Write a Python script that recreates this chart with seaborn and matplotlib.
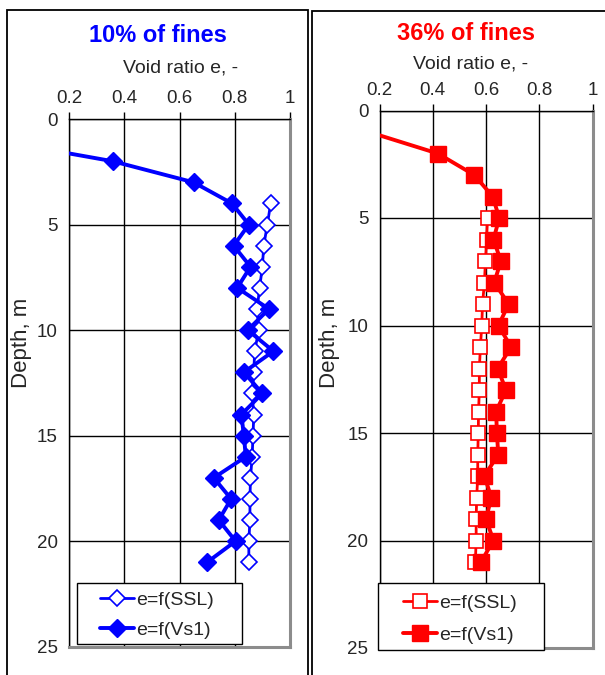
import matplotlib
matplotlib.use("Agg")
import matplotlib.pyplot as plt
import seaborn as sns
import pandas as pd
from matplotlib.patches import Rectangle

# ---------------- data ----------------
depth_ssl_10 = [4, 5, 6, 7, 8, 9, 10, 11, 12, 13, 14, 15, 16, 17, 18, 19, 20, 21]
e_ssl_10 = [0.930, 0.918, 0.905, 0.900, 0.890, 0.881, 0.887, 0.872, 0.869, 0.863,
            0.869, 0.866, 0.863, 0.857, 0.855, 0.855, 0.851, 0.851]
depth_vs_10 = [1, 2, 3, 4, 5, 6, 7, 8, 9, 10, 11, 12, 13, 14, 15, 16, 17, 18, 19, 20, 21]
e_vs_10 = [-0.07, 0.358, 0.651, 0.790, 0.851, 0.796, 0.857, 0.809, 0.924, 0.847, 0.940,
           0.833, 0.900, 0.824, 0.833, 0.840, 0.724, 0.787, 0.742, 0.803, 0.700]

depth_ssl_36 = [5, 6, 7, 8, 9, 10, 11, 12, 13, 14, 15, 16, 17, 18, 19, 20, 21]
e_ssl_36 = [0.606, 0.602, 0.598, 0.594, 0.587, 0.584, 0.579, 0.575, 0.575, 0.572,
            0.571, 0.569, 0.569, 0.565, 0.563, 0.563, 0.560]
depth_vs_36 = [1, 2, 3, 4, 5, 6, 7, 8, 9, 10, 11, 12, 13, 14, 15, 16, 17, 18, 19, 20, 21]
e_vs_36 = [0.16, 0.419, 0.556, 0.625, 0.650, 0.628, 0.656, 0.631, 0.685, 0.647, 0.694,
           0.644, 0.675, 0.638, 0.641, 0.646, 0.594, 0.620, 0.600, 0.628, 0.581]

x_ticks = [0.2, 0.4, 0.6, 0.8, 1.0]
x_tick_labels = ["0.2", "0.4", "0.6", "0.8", "1"]
y_ticks = [0, 5, 10, 15, 20, 25]
y_tick_labels = ["0", "5", "10", "15", "20", "25"]
titles = ["10% of fines", "36% of fines"]
legend_labels = ["e=f(SSL)", "e=f(Vs1)"]
xlabel = "Void ratio e, -"
ylabel = "Depth, m"

# ---------------- style ----------------
sns.set_style("white")
plt.rcParams["font.family"] = ["Liberation Sans", "DejaVu Sans"]

W, H = 605, 675
fig = plt.figure(figsize=(W / 100, H / 100), dpi=100)


def fx(px):
    return px / W


def fy(py):
    return 1 - py / H


# panel boxes
for (x0, y0, x1) in [(7, 10, 308), (312, 11, 640)]:
    fig.add_artist(Rectangle((fx(x0), fy(700)), fx(x1) - fx(x0), fy(y0) - fy(700),
                             transform=fig.transFigure, fill=False,
                             edgecolor="black", linewidth=1.3, clip_on=False))

panels = [
    dict(box=(69, 119, 290, 646.7), color="#0000FF", marker="D", ms_f=9.0, ms_o=8.5,
         ssl=(e_ssl_10, depth_ssl_10), vs=(e_vs_10, depth_vs_10), title=titles[0],
         title_xy=(158, 36), xl_xy=(181, 68), yl_xy=(22, 343),
         legbox=(77, 583, 242, 644), leg_anchor=(100, 591), legsp=0.66),
    dict(box=(379.5, 110.5, 592.5, 648), color="#FF0000", marker="s", ms_f=11.0, ms_o=10.0,
         ssl=(e_ssl_36, depth_ssl_36), vs=(e_vs_36, depth_vs_36), title=titles[1],
         title_xy=(466, 34), xl_xy=(471, 64), yl_xy=(330, 343),
         legbox=(378, 583, 544, 650), leg_anchor=(403, 594), legsp=0.74),
]

for p in panels:
    x0, y0, x1, y1 = p["box"]
    ax = fig.add_axes([fx(x0), fy(y1), fx(x1) - fx(x0), fy(y0) - fy(y1)])
    c = p["color"]

    df_ssl = pd.DataFrame({"e": p["ssl"][0], "depth": p["ssl"][1]})
    df_vs = pd.DataFrame({"e": p["vs"][0], "depth": p["vs"][1]})

    sns.lineplot(data=df_ssl, x="e", y="depth", orient="y", sort=False, estimator=None,
                 ax=ax, color=c, linewidth=2.0, marker=p["marker"],
                 markersize=p["ms_o"], markerfacecolor="white", markeredgecolor=c,
                 markeredgewidth=1.2, label=legend_labels[0], zorder=3)
    sns.lineplot(data=df_vs, x="e", y="depth", orient="y", sort=False, estimator=None,
                 ax=ax, color=c, linewidth=2.8, marker=p["marker"],
                 markersize=p["ms_f"], markerfacecolor=c, markeredgecolor=c,
                 markeredgewidth=1.0, label=legend_labels[1], zorder=4)

    ax.set_xlim(0.2, 1.0)
    ax.set_ylim(25, 0)
    ax.set_xticks(x_ticks)
    ax.set_xticklabels(x_tick_labels)
    ax.set_yticks(y_ticks)
    ax.set_yticklabels(y_tick_labels)
    ax.xaxis.tick_top()
    ax.tick_params(axis="both", direction="out", length=5, width=1, color="black",
                   labelsize=13.5)
    ax.tick_params(axis="x", pad=3.5)
    ax.tick_params(axis="y", pad=3)
    ax.set_xlabel("")
    ax.set_ylabel("")
    ax.grid(True, color="black", linewidth=1.0)
    ax.set_axisbelow(True)
    for s in ["left", "top"]:
        ax.spines[s].set_color("black")
        ax.spines[s].set_linewidth(1.0)
    for s in ["right", "bottom"]:
        ax.spines[s].set_color("#8c8c8c")
        ax.spines[s].set_linewidth(2.2)

    fig.text(fx(p["title_xy"][0]), fy(p["title_xy"][1]), p["title"], color=c,
             fontsize=17, fontweight="bold", ha="center", va="center")
    fig.text(fx(p["xl_xy"][0]), fy(p["xl_xy"][1]), xlabel, fontsize=14,
             ha="center", va="center")
    fig.text(fx(p["yl_xy"][0]), fy(p["yl_xy"][1]), ylabel, fontsize=16,
             ha="center", va="center", rotation=90)

    # legend box
    lx0, ly0, lx1, ly1 = p["legbox"]
    fig.add_artist(Rectangle((fx(lx0), fy(ly1)), fx(lx1) - fx(lx0), fy(ly0) - fy(ly1),
                             transform=fig.transFigure, facecolor="white",
                             edgecolor="black", linewidth=1.0, zorder=9))
    leg = ax.legend(loc="upper left",
                    bbox_to_anchor=(fx(p["leg_anchor"][0]), fy(p["leg_anchor"][1])),
                    bbox_transform=fig.transFigure, fontsize=14, frameon=False,
                    handlelength=1.75, handletextpad=0.1, borderpad=0,
                    labelspacing=p["legsp"], borderaxespad=0)
    leg.set_zorder(10)
    leg.remove()
    fig.add_artist(leg)

fig.savefig("out.png", dpi=100)
